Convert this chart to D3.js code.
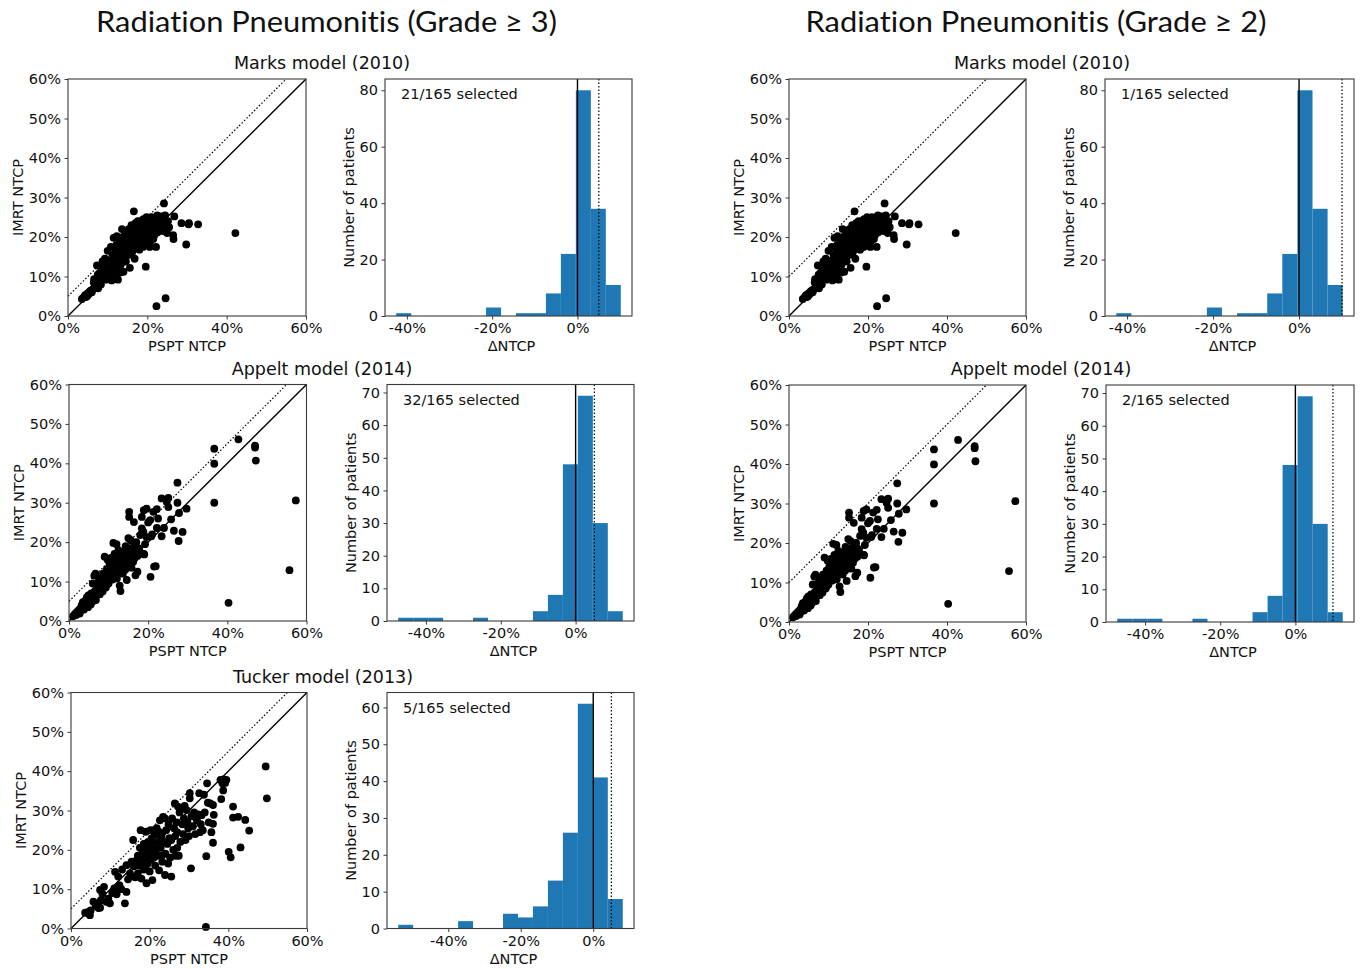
<!DOCTYPE html>
<html>
<head>
<meta charset="utf-8">
<script src="https://cdn.jsdelivr.net/npm/d3@7"></script>
<style>
  body { margin: 0; background: #fff; }
  text { font-family: "DejaVu Sans", sans-serif; fill: #111; }
  .bigtitle { font-family: Lato, "Open Sans", sans-serif; font-variant-ligatures: none; font-feature-settings: "liga" 0; }
</style>
</head>
<body>
<div id="chart"></div>
<script>
// ---- data (values in %) ----
// scatter points: [PSPT NTCP, IMRT NTCP]
var marksPoints = [
  [3.5,4.3],[4.0,4.8],[4.3,5.3],[4.8,5.0],[5.0,5.8],[5.5,6.2],[5.2,5.5],[6.0,6.0],[6.3,6.8],[6.5,8.5],
  [6.6,9.3],[7.0,7.8],[7.2,9.0],[7.5,10.5],[7.3,12.8],[7.8,8.5],[8.0,11.0],[8.2,9.5],[8.5,12.0],[8.7,13.8],
  [8.6,10.2],[9.0,10.8],[9.2,12.5],[9.3,14.5],[9.5,9.2],[9.8,11.5],[10.0,13.0],[10.0,16.5],[10.3,10.0],[10.5,12.2],
  [10.5,14.0],[10.8,17.5],[11.0,9.0],[11.0,11.8],[11.2,13.5],[11.3,15.5],[11.5,19.8],[11.6,12.8],[11.8,14.8],[12.0,10.8],
  [12.0,16.2],[12.2,18.0],[12.3,20.2],[12.5,13.2],[12.6,9.2],[12.8,15.0],[13.0,17.5],[13.0,19.5],[13.2,11.0],[13.4,14.0],
  [13.5,16.5],[13.7,18.5],[13.8,20.0],[14.0,11.2],[14.0,15.5],[14.2,17.0],[14.3,19.0],[14.5,21.0],[14.6,13.8],[14.8,16.0],
  [15.0,18.2],[15.0,20.5],[15.2,17.0],[15.3,22.0],[15.5,19.0],[15.6,12.2],[15.8,21.0],[16.0,18.0],[16.0,23.0],[16.3,20.0],
  [16.5,22.5],[16.6,26.5],[16.8,19.0],[17.0,23.5],[17.0,21.0],[17.3,17.5],[17.5,22.0],[17.6,24.0],[17.8,20.5],[18.0,23.0],
  [18.0,16.8],[18.2,21.5],[18.4,24.0],[18.5,19.0],[18.7,22.8],[18.9,17.5],[19.0,20.5],[19.0,24.5],[19.3,23.0],[19.5,21.5],
  [19.6,12.5],[19.7,18.2],[19.8,25.0],[20.0,22.0],[20.0,23.8],[20.3,20.0],[20.5,24.5],[20.6,17.5],[20.8,22.5],[21.0,25.0],
  [21.2,21.0],[21.3,23.5],[21.5,19.5],[21.8,24.0],[22.0,22.5],[22.2,17.5],[22.3,2.5],[22.5,25.5],[22.8,23.5],[23.0,24.8],
  [23.2,22.0],[23.5,25.2],[23.8,23.5],[24.0,21.5],[24.2,28.5],[24.3,24.5],[24.6,4.5],[24.8,23.0],[25.0,21.0],[25.2,24.0],
  [26.5,20.5],[26.6,19.5],[26.8,25.2],[28.6,23.5],[29.8,18.1],[30.5,23.5],[30.4,23.2],[32.8,23.2],[42.2,21.0],
  [6.8,7.2],[7.6,7.0],[8.3,8.0],[9.0,9.5],[9.6,10.5],[10.2,11.0],[10.8,9.8],[11.4,10.6],[12.7,12.0],[13.3,13.0],
  [14.4,14.2],[15.4,15.5],[16.2,16.2],[16.8,14.5],[17.2,19.5],[18.6,20.0],[19.2,19.2],[20.2,21.2],[21.6,22.5],[23.6,24.2],
  [22.6,21.2],[24.5,25.5],[25.5,22.5],[13.6,22.0],[12.0,17.0],[11.0,12.5],[9.9,13.8],[8.4,11.0],[7.7,9.8],[5.8,6.5],
  [4.5,4.8],[16.5,17.0],[18.2,18.5],[20.8,19.0],[21.8,20.5]
];

var appeltPoints = [
  [1.0,1.2],[1.5,1.8],[1.8,1.5],[2.0,2.3],[2.3,2.0],[2.5,2.8],[2.8,2.5],[3.0,3.3],[3.2,4.0],[3.3,3.0],
  [3.5,4.8],[3.6,3.5],[3.8,2.9],[4.0,4.2],[4.2,5.2],[4.3,3.8],[4.5,6.0],[4.6,4.5],[4.8,3.5],[5.0,5.5],
  [5.1,4.8],[5.3,6.3],[5.5,4.2],[5.6,7.0],[5.8,5.8],[6.0,5.0],[6.0,9.5],[6.2,6.5],[6.4,11.5],[6.5,7.5],
  [6.7,12.0],[6.8,5.3],[7.0,8.0],[7.0,6.5],[7.2,9.0],[7.4,7.2],[7.5,10.0],[7.7,8.5],[7.8,6.8],[8.0,9.5],
  [8.0,11.0],[8.2,8.0],[8.4,10.5],[8.5,7.5],[8.6,12.0],[8.8,9.0],[9.0,16.3],[9.0,10.0],[9.2,11.5],[9.3,8.5],
  [9.5,13.0],[9.6,10.5],[9.8,15.5],[10.0,12.0],[10.0,9.5],[10.2,14.0],[10.3,11.0],[10.5,13.0],[10.6,16.0],[10.8,12.5],
  [11.0,10.5],[11.0,14.5],[11.2,19.8],[11.3,13.0],[11.5,12.0],[11.5,17.0],[11.7,15.0],[11.8,11.0],[12.0,14.0],[12.0,19.5],
  [12.2,13.2],[12.3,16.5],[12.5,12.5],[12.5,18.0],[12.7,14.8],[12.8,9.0],[13.0,7.6],[13.0,16.0],[13.2,13.5],[13.3,15.2],
  [13.5,17.5],[13.6,12.0],[13.8,14.5],[14.0,16.8],[14.2,13.0],[14.3,19.0],[14.5,15.5],[14.6,10.4],[14.8,18.0],[15.0,21.0],
  [15.0,14.0],[15.2,27.7],[15.2,26.4],[15.3,16.5],[15.5,18.5],[15.6,20.5],[15.8,13.5],[16.0,17.5],[16.2,15.0],[16.4,25.1],
  [16.5,19.0],[16.8,11.6],[16.8,18.0],[17.0,20.0],[17.3,12.5],[17.3,16.5],[17.5,18.5],[18.0,21.8],[18.4,26.4],[18.4,23.5],
  [18.8,22.6],[18.9,28.1],[18.9,17.0],[19.0,16.9],[19.6,21.3],[19.6,28.5],[20.0,25.0],[20.5,25.6],[20.6,11.2],[20.8,21.5],
  [21.3,27.7],[21.5,13.8],[21.9,13.9],[22.2,28.4],[22.2,23.6],[22.5,26.0],[23.4,21.5],[23.4,31.1],[24.0,23.6],[24.7,30.2],
  [25.1,31.2],[25.1,28.9],[25.8,25.8],[26.5,22.9],[27.4,35.1],[27.4,30.0],[27.7,20.3],[27.8,27.4],[28.7,22.6],[29.7,28.5],
  [36.7,43.7],[36.7,39.9],[36.7,30.0],[40.3,4.6],[42.8,46.1],[47.0,44.5],[47.0,44.0],[47.2,40.7],[55.7,12.9],[57.3,30.6],
  [2.7,1.9],[4.9,6.5],[9.4,9.0],[10.9,11.8],[12.1,10.8],[14.1,14.8],[16.6,16.0],[17.8,17.8],[19.2,19.5],[21.0,22.0]
];

var tuckerPoints = [
  [3.6,4.0],[4.4,4.2],[4.8,3.4],[5.0,4.6],[5.7,6.8],[6.3,5.8],[7.0,5.2],[7.4,5.3],[7.6,7.2],[7.4,9.8],
  [8.4,10.6],[8.0,8.8],[9.0,6.8],[9.5,7.6],[9.9,6.4],[10.5,9.0],[11.0,10.2],[11.2,14.4],[11.6,8.7],[12.0,13.2],
  [12.3,11.0],[12.8,10.0],[13.0,15.0],[13.7,6.4],[14.1,9.3],[14.1,16.1],[14.5,12.5],[15.0,14.0],[15.4,17.0],[15.8,22.5],
  [16.0,15.8],[16.3,13.0],[16.7,17.4],[16.7,13.2],[17.0,18.5],[17.2,16.0],[17.5,20.5],[17.7,25.0],[17.9,12.7],[18.0,17.0],
  [18.3,19.5],[18.5,15.0],[18.6,21.0],[18.8,18.0],[19.0,24.6],[19.2,11.5],[19.3,20.0],[19.5,16.5],[19.6,22.0],[19.8,18.8],
  [20.0,14.5],[20.1,20.8],[20.3,17.5],[20.5,23.0],[20.7,12.3],[20.8,19.0],[21.0,21.5],[21.3,23.8],[21.4,16.0],[21.6,20.0],
  [21.8,25.5],[22.0,18.5],[22.2,22.0],[22.4,14.8],[22.6,27.5],[22.8,20.5],[23.0,23.5],[23.2,17.0],[23.4,28.4],[23.6,22.0],
  [23.9,28.0],[23.9,13.6],[24.0,19.0],[24.2,25.0],[24.5,21.5],[24.7,16.5],[25.0,23.0],[25.2,18.0],[25.5,13.2],[25.5,22.5],
  [25.7,28.0],[26.0,20.0],[26.2,25.5],[26.4,31.8],[26.6,18.5],[26.8,27.0],[27.0,24.5],[27.2,31.0],[27.4,18.5],[27.6,29.5],
  [27.8,22.0],[28.1,30.6],[28.3,26.5],[28.5,24.0],[28.7,28.0],[28.9,31.2],[29.1,22.5],[29.4,30.1],[29.6,27.0],[29.8,25.5],
  [30.0,23.5],[30.2,34.4],[30.2,33.1],[30.5,15.3],[30.6,28.5],[31.0,26.0],[31.3,29.5],[31.6,24.0],[32.0,27.5],[32.3,29.0],
  [32.6,34.4],[32.8,24.5],[33.0,26.5],[33.2,28.8],[33.5,25.0],[33.8,34.0],[34.0,29.5],[34.3,0.4],[34.4,18.4],[34.6,36.9],
  [34.8,32.0],[35.0,27.0],[35.4,31.8],[35.7,24.5],[36.1,31.4],[36.1,21.8],[36.1,26.6],[36.3,28.9],[38.0,37.8],[38.2,32.9],
  [38.5,36.9],[38.7,35.1],[38.8,37.9],[39.5,37.8],[39.2,37.0],[40.1,19.5],[40.6,18.1],[41.2,31.0],[41.2,28.2],[42.5,28.4],
  [43.1,20.6],[44.3,27.6],[45.3,24.9],[49.5,41.2],[49.8,33.1],
  [17.0,14.0],[19.0,16.0],[21.0,18.0],[22.5,24.5],[24.8,26.5],[26.5,23.5],[18.5,21.5],[20.2,25.0],[23.0,18.5],[27.0,20.5]
];

// histograms of ΔNTCP: first bin edge, bin width, counts per bin
var marksBinStart = -42.5, marksBinWidth = 3.51;
var marksCounts = [1, 0, 0, 0, 0, 0, 3, 0, 1, 1, 8, 22, 80, 38, 11];
var appeltBinStart = -47.4, appeltBinWidth = 4.0;
var appeltCounts = [1, 1, 1, 0, 0, 1, 0, 0, 0, 3, 8, 48, 69, 30, 3];
var tuckerBinStart = -53.8, tuckerBinWidth = 4.13;
var tuckerCounts = [1, 0, 0, 0, 2, 0, 0, 4, 3, 6, 13, 26, 61, 41, 8];

var titles = ["Radiation Pneumonitis (Grade \u2265 3)", "Radiation Pneumonitis (Grade \u2265 2)"];
var modelNames = ["Marks model (2010)", "Appelt model (2014)", "Tucker model (2013)"];
var thresholds = [5, 10];
var selectedLabels = [
  ["21/165 selected", "32/165 selected", "5/165 selected"],
  ["1/165 selected", "2/165 selected"]
];
var scatterXTicks = [0, 20, 40, 60];
var scatterYTicks = [0, 10, 20, 30, 40, 50, 60];
var histXTicks = [-40, -20, 0];

var hists = [
  {start: marksBinStart, width: marksBinWidth, counts: marksCounts, yTicks: [0, 20, 40, 60, 80]},
  {start: appeltBinStart, width: appeltBinWidth, counts: appeltCounts, yTicks: [0, 10, 20, 30, 40, 50, 60, 70]},
  {start: tuckerBinStart, width: tuckerBinWidth, counts: tuckerCounts, yTicks: [0, 10, 20, 30, 40, 50, 60]}
];
var scatters = [marksPoints, appeltPoints, tuckerPoints];

// ---- layout ----
var w = 1362, h = 969,
	barColor = "#1f77b4",
	frameColor = "#3a3a3a",
	fontSize = 14.5

var svg = d3.select("#chart").append("svg")
	.attr("width", w)
	.attr("height", h)

// which panels go where (column, model index, pixel boxes)
var panels = [
  {col: 0, m: 0, sc: {x: 68, y: 79, w: 238, h: 237}, hi: {x: 385, y: 79, w: 247, h: 237}, sub: {x: 322, y: 69}},
  {col: 0, m: 1, sc: {x: 69, y: 384.5, w: 237.5, h: 236.5}, hi: {x: 387, y: 384.5, w: 247, h: 236.5}, sub: {x: 322, y: 375}},
  {col: 0, m: 2, sc: {x: 71, y: 692.5, w: 236, h: 236}, hi: {x: 387, y: 692.5, w: 247, h: 236}, sub: {x: 323, y: 683}},
  {col: 1, m: 0, sc: {x: 789, y: 79, w: 237, h: 237}, hi: {x: 1105, y: 79, w: 249, h: 237}, sub: {x: 1042, y: 69}},
  {col: 1, m: 1, sc: {x: 789, y: 385, w: 237, h: 237}, hi: {x: 1106, y: 385, w: 248, h: 237}, sub: {x: 1041, y: 375}}
];

var pct = d => d + "%"

var styleAxis = (g) => {
	g.select(".domain").remove()
	g.selectAll(".tick line").attr("stroke", frameColor).attr("stroke-width", 1)
	g.selectAll(".tick text")
		.style("font-family", "DejaVu Sans")
		.style("font-size", fontSize + "px")
		.attr("fill", "#111")
}

var drawScatter = (box, pts, offset) => {
	var g = svg.append("g").attr("transform", "translate(" + box.x + "," + box.y + ")")

	var x = d3.scaleLinear().domain([0, 60]).range([0, box.w])
	var y = d3.scaleLinear().domain([0, 60]).range([box.h, 0])

	// identity line and threshold line
	g.append("line")
		.attr("x1", x(0)).attr("y1", y(0))
		.attr("x2", x(60)).attr("y2", y(60))
		.attr("stroke", "#000").attr("stroke-width", 1.4)
	g.append("line")
		.attr("x1", x(0)).attr("y1", y(offset))
		.attr("x2", x(60 - offset)).attr("y2", y(60))
		.attr("stroke", "#000").attr("stroke-width", 1.2)
		.attr("stroke-dasharray", "1.5,2")

	g.selectAll("circle")
		.data(pts)
		.enter()
		.append("circle")
		.attr("cx", d => x(d[0]))
		.attr("cy", d => y(d[1]))
		.attr("r", 3.9)
		.attr("fill", "#000")

	g.append("g")
		.attr("transform", "translate(0," + box.h + ")")
		.call(d3.axisBottom(x).tickValues(scatterXTicks).tickFormat(pct).tickSize(3.5).tickPadding(3.5))
		.call(styleAxis)
	g.append("g")
		.call(d3.axisLeft(y).tickValues(scatterYTicks).tickFormat(pct).tickSize(3.5).tickPadding(3.5))
		.call(styleAxis)

	g.append("rect")
		.attr("width", box.w).attr("height", box.h)
		.attr("fill", "none").attr("stroke", frameColor).attr("stroke-width", 1.1)

	g.append("text")
		.attr("x", box.w / 2).attr("y", box.h + 35)
		.attr("text-anchor", "middle")
		.style("font-size", fontSize + "px")
		.text("PSPT NTCP")
	g.append("text")
		.attr("transform", "rotate(-90)")
		.attr("x", -box.h / 2).attr("y", -45)
		.attr("text-anchor", "middle")
		.style("font-size", fontSize + "px")
		.text("IMRT NTCP")
}

var drawHist = (box, hd, thr, label) => {
	var g = svg.append("g").attr("transform", "translate(" + box.x + "," + box.y + ")")

	var n = hd.counts.length
	var lo = hd.start, hi = hd.start + n * hd.width
	var pad = (hi - lo) * 0.05
	var x = d3.scaleLinear().domain([lo - pad, hi + pad]).range([0, box.w])
	var y = d3.scaleLinear().domain([0, d3.max(hd.counts) * 1.05]).range([box.h, 0])

	var bins = hd.counts.map((c, i) => ({x0: lo + i * hd.width, x1: lo + (i + 1) * hd.width, c: c}))
		.filter(b => b.c > 0)

	g.selectAll("rect.bar")
		.data(bins)
		.enter()
		.append("rect")
		.attr("class", "bar")
		.attr("x", d => x(d.x0))
		.attr("y", d => y(d.c))
		.attr("width", d => x(d.x1) - x(d.x0))
		.attr("height", d => y(0) - y(d.c))
		.attr("fill", barColor)

	g.append("line")
		.attr("x1", x(0)).attr("x2", x(0))
		.attr("y1", 0).attr("y2", box.h)
		.attr("stroke", "#000").attr("stroke-width", 1.4)
	g.append("line")
		.attr("x1", x(thr)).attr("x2", x(thr))
		.attr("y1", 0).attr("y2", box.h)
		.attr("stroke", "#000").attr("stroke-width", 1.2)
		.attr("stroke-dasharray", "1.5,2")

	g.append("g")
		.attr("transform", "translate(0," + box.h + ")")
		.call(d3.axisBottom(x).tickValues(histXTicks).tickFormat(pct).tickSize(3.5).tickPadding(3.5))
		.call(styleAxis)
	g.append("g")
		.call(d3.axisLeft(y).tickValues(hd.yTicks).tickSize(3.5).tickPadding(3.5))
		.call(styleAxis)

	g.append("rect")
		.attr("width", box.w).attr("height", box.h)
		.attr("fill", "none").attr("stroke", frameColor).attr("stroke-width", 1.1)

	g.append("text")
		.attr("x", 16).attr("y", 20)
		.style("font-size", fontSize + "px")
		.text(label)

	g.append("text")
		.attr("x", box.w / 2 + 3).attr("y", box.h + 35)
		.attr("text-anchor", "middle")
		.style("font-size", fontSize + "px")
		.text("\u0394NTCP")
	g.append("text")
		.attr("transform", "rotate(-90)")
		.attr("x", -box.h / 2).attr("y", -31)
		.attr("text-anchor", "middle")
		.style("font-size", fontSize + "px")
		.text("Number of patients")
}

// big titles
svg.selectAll("text.bigtitle")
	.data(titles)
	.enter()
	.append("text")
	.attr("class", "bigtitle")
	.attr("x", (d, i) => i === 0 ? 326.5 : 1036)
	.attr("y", 32)
	.attr("text-anchor", "middle")
	.attr("textLength", 461)
	.attr("lengthAdjust", "spacingAndGlyphs")
	.style("font-size", "29px")
	.text(d => d)

panels.forEach(p => {
	svg.append("text")
		.attr("x", p.sub.x).attr("y", p.sub.y)
		.attr("text-anchor", "middle")
		.style("font-size", "17.5px")
		.text(modelNames[p.m])

	drawScatter(p.sc, scatters[p.m], thresholds[p.col])
	drawHist(p.hi, hists[p.m], thresholds[p.col], selectedLabels[p.col][p.m])
})
</script>
</body>
</html>
